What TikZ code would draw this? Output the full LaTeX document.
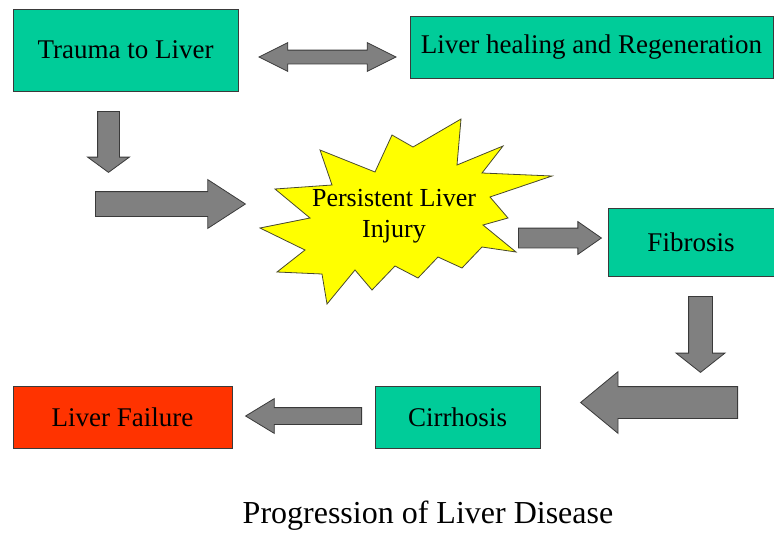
\documentclass[tikz,border=0pt]{standalone}
\usepackage{fontspec}
\setmainfont{Liberation Serif}
\usetikzlibrary{shapes.arrows}
\definecolor{stageTeal}{HTML}{00CC99}
\definecolor{stageRed}{HTML}{FF3300}
\definecolor{burstYellow}{HTML}{FFFF00}
\definecolor{arrowGray}{HTML}{808080}
\definecolor{edgeDark}{HTML}{3A3A3A}

\begin{document}
\begin{tikzpicture}[
  x=1pt, y=-1pt,
  font=\fontsize{27}{31}\selectfont,
  stage/.style={draw=edgeDark, line width=0.8pt, fill=#1, inner sep=0pt},
  sarrow/.style n args={4}{single arrow, draw=edgeDark, fill=arrowGray, line width=0.8pt,
    inner xsep=0pt, inner ysep=#1, single arrow head extend=#2,
    single arrow tip angle=#3, minimum height=#4, anchor=tail},
  burst/.style={draw=edgeDark!80!olive, fill=burstYellow, line width=0.8pt, line join=miter}
]
\useasboundingbox (0,0) rectangle (774,533);
% stage boxes
\node[stage=stageTeal, minimum width=225, minimum height=82] (trauma) at (125.5,50) {Trauma to Liver};
\node[stage=stageTeal, minimum width=363, minimum height=62] (heal) at (591.5,47) {Liver healing and Regeneration};
\node[stage=stageTeal, minimum width=166, minimum height=68] (fibro) at (691,242) {Fibrosis};
\node[stage=stageTeal, minimum width=165, minimum height=62] (cirrh) at (457.5,417) {Cirrhosis};
\node[stage=stageRed, minimum width=219, minimum height=62] (fail) at (122.5,417) {Liver Failure};
% persistent injury burst
\draw[burst] (461,119) -- (457,165) -- (503,146) -- (482,173) -- (552,176) -- (490,197)
  -- (508,218) -- (483,225) -- (516,252) -- (482,247) -- (462,268) -- (438,257)
  -- (418,278) -- (395,266) -- (372,290) -- (355,270) -- (327,304) -- (322,274)
  -- (277,272) -- (305,250) -- (260,228) -- (310,218) -- (275,189) -- (332,185)
  -- (320,150) -- (375,172) -- (392,135) -- (413,147) -- cycle;
\node[align=center, font=\fontsize{26}{31}\selectfont] (injury) at (394,216) {Persistent Liver\\Injury};
% block arrows (placed by their tails)
\node[double arrow, draw=edgeDark, fill=arrowGray, line width=0.8pt, inner xsep=0pt, inner ysep=6.5,
  double arrow head extend=7.5, double arrow tip angle=53.1, minimum height=137] (loop) at (327.5,57) {};
\node[sarrow={10.5}{10}{107.6}{61}, rotate=-90] (down1) at (108.5,111) {};
\node[sarrow={12}{12}{65.9}{150}] (right1) at (95,204) {};
\node[sarrow={9.5}{6.5}{69.7}{83}] (right2) at (518,238) {};
\node[sarrow={11.5}{12.5}{103.4}{76}, rotate=-90] (down2) at (700.5,296) {};
\node[sarrow={15.5}{15}{79}{157}, rotate=180] (left1) at (738,402.5) {};
\node[sarrow={8}{9}{62.5}{116}, rotate=180] (left2) at (362,416) {};
% caption
\node[font=\fontsize{32}{36}\selectfont, anchor=base] (title) at (428,523) {Progression of Liver Disease};
\end{tikzpicture}
\end{document}
